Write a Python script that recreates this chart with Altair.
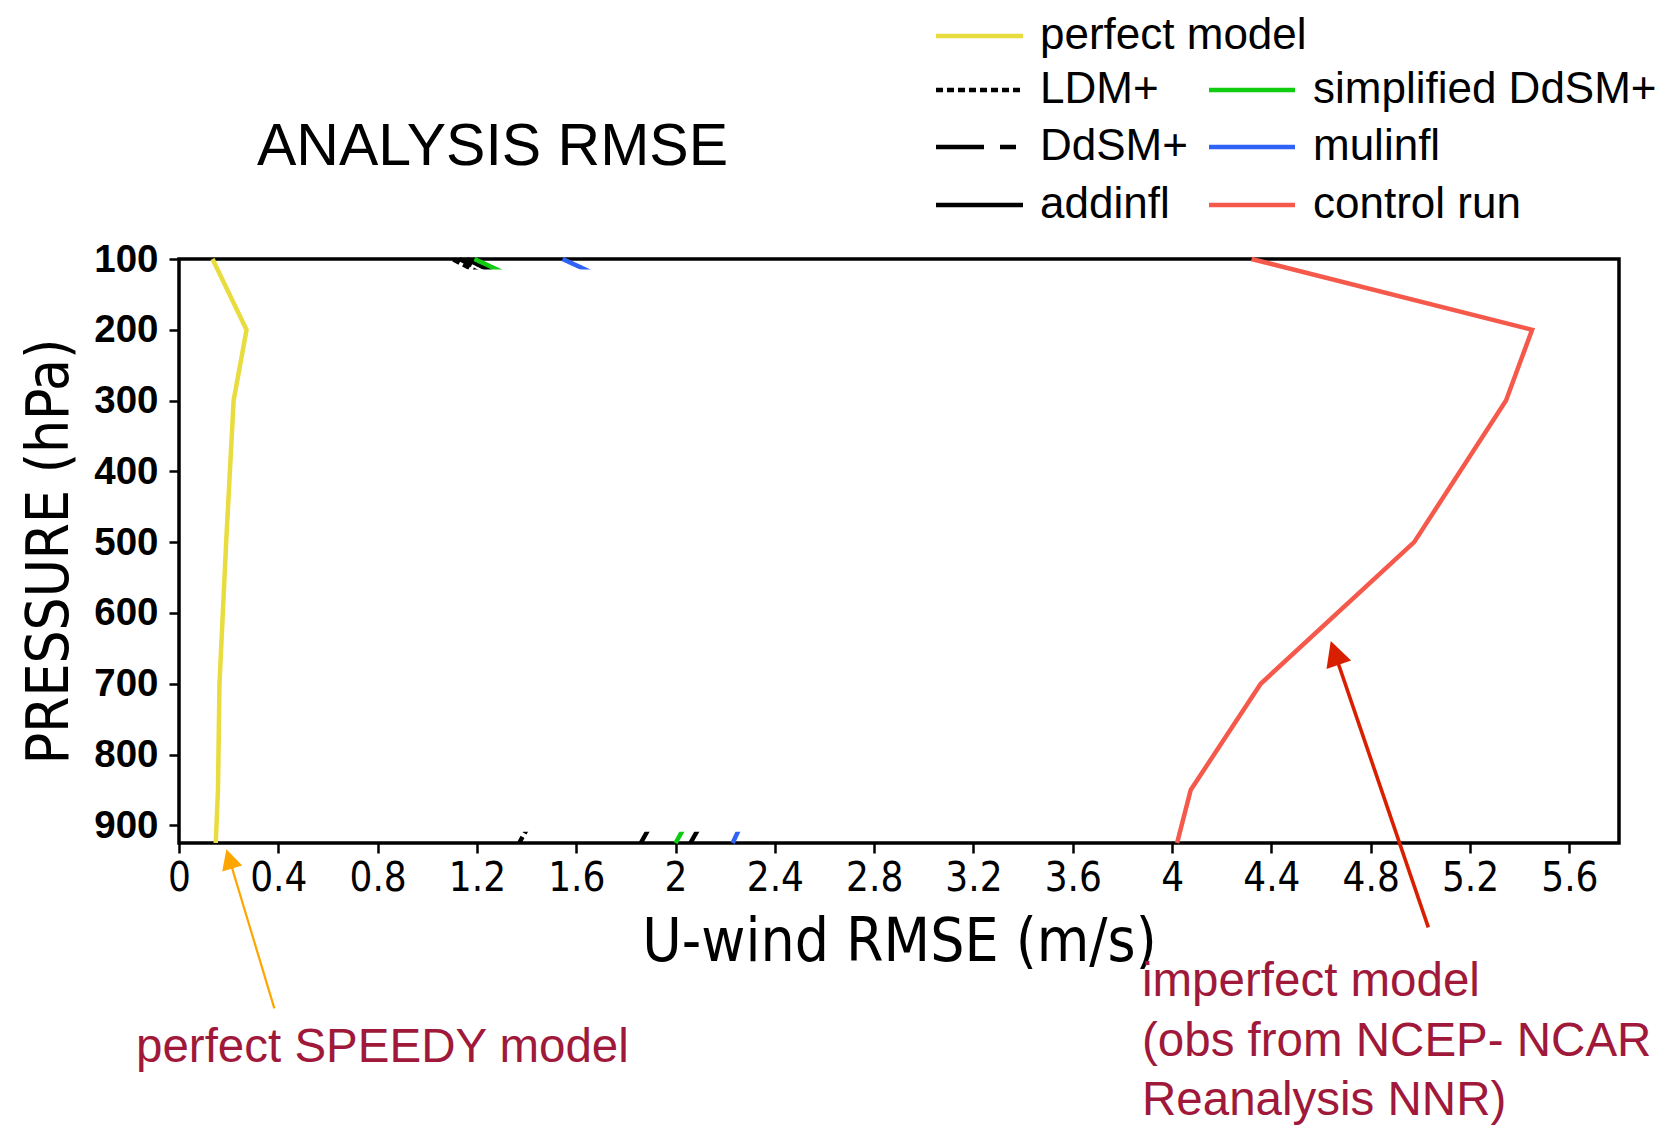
import altair as alt
import pandas as pd

# ---------------- data ----------------
LEVELS = [100, 200, 300, 500, 700, 850, 925]
SERIES = ["perfect model", "LDM+", "DdSM+", "addinfl",
          "simplified DdSM+", "mulinfl", "control run"]
PERFECT_MODEL = [0.135, 0.272, 0.220, 0.190, 0.163, 0.157, 0.148]
LDM_PLUS = [1.10, 1.66, 1.62, 1.55, 1.50, 1.49, 1.37]
DDSM_PLUS = [1.13, 1.69, 1.70, 1.72, 1.85, 1.98, 1.86]
ADDINFL = [1.16, 1.72, 1.76, 1.82, 1.98, 2.18, 2.06]
SIMPLIFIED_DDSM_PLUS = [1.19, 1.80, 1.82, 1.84, 1.95, 2.12, 2.00]
MULINFL = [1.545, 2.16, 2.16, 2.15, 2.20, 2.33, 2.23]
CONTROL_RUN = [4.32, 5.45, 5.345, 4.975, 4.357, 4.075, 4.02]

X_TICKS = [0, 0.4, 0.8, 1.2, 1.6, 2, 2.4, 2.8, 3.2, 3.6, 4, 4.4, 4.8, 5.2, 5.6]
Y_TICKS = [100, 200, 300, 400, 500, 600, 700, 800, 900]
X_DOMAIN = [0, 5.8]
Y_DOMAIN = [100, 925]

# part of the profile region that is blanked in the original figure
MASK_PRESSURE = [115, 909]

VALUES = {
    "perfect model": PERFECT_MODEL,
    "LDM+": LDM_PLUS,
    "DdSM+": DDSM_PLUS,
    "addinfl": ADDINFL,
    "simplified DdSM+": SIMPLIFIED_DDSM_PLUS,
    "mulinfl": MULINFL,
    "control run": CONTROL_RUN,
}
COLORS = ["#e8dc3e", "#000000", "#000000", "#000000", "#10cc10", "#2f62f5", "#f5594b"]
DASHES = [[1, 0], [7, 4], [48, 16, 16, 16], [1, 0], [1, 0], [1, 0], [1, 0]]

# annotations (data coordinates: rmse, pressure)
ARROWS = [
    # tail_x, tail_p, end_x, end_p, tip_x, tip_p, color, width, head_size, angle
    (0.384, 1158.6, 0.205, 950.2, 0.191, 933.9, "#ffa500", 2.2, 1600, 343.2),
    (5.032, 1044.2, 4.658, 659.8, 4.639, 639.7, "#d82000", 3.6, 2500, 341.2),
]

rows = []
for s in SERIES:
    for p, v in zip(LEVELS, VALUES[s]):
        rows.append({"series": s, "pressure": p, "rmse": v})
df = pd.DataFrame(rows)
hidden_names = ["LDM+", "DdSM+", "addinfl", "simplified DdSM+", "mulinfl"]
df_hidden = df[df.series.isin(hidden_names)]
df_visible = df[df.series.isin(["perfect model", "control run"])]

W, H = 1440, 584
NARROW = "Liberation Sans Narrow, DejaVu Sans Condensed, Liberation Sans, sans-serif"
SANS = "Liberation Sans, Arial, sans-serif"

XS = alt.Scale(domain=X_DOMAIN, nice=False, zero=False)
YS = alt.Scale(domain=Y_DOMAIN, nice=False, zero=False, reverse=True)
XAXIS = alt.Axis(values=X_TICKS, format="~g", grid=False, domain=False,
                 tickSize=10, tickWidth=2.5, tickColor="black",
                 labelFont=NARROW, labelFontSize=40, labelColor="black",
                 labelPadding=5, labelFlush=False, labelOverlap=False,
                 titleFont=NARROW, titleFontSize=60, titleFontWeight="normal",
                 titleColor="black", titleX=W / 2, titleY=117,
                 titleBaseline="alphabetic", titleAlign="center")
YAXIS = alt.Axis(values=Y_TICKS, grid=False, domain=False,
                 tickSize=10, tickWidth=2.5, tickColor="black",
                 labelFont=SANS, labelFontSize=38.5, labelFontWeight="bold",
                 labelColor="black", labelPadding=11, labelFlush=False,
                 labelOverlap=False,
                 titleFont=NARROW, titleFontSize=58, titleFontWeight="normal",
                 titleColor="black", titleX=-112, titleY=H / 2, titleAngle=270,
                 titleBaseline="alphabetic", titleAlign="center")


def xenc(field):
    return alt.X(f"{field}:Q", scale=XS, axis=XAXIS, title="U-wind RMSE (m/s)")


def yenc(field):
    return alt.Y(f"{field}:Q", scale=YS, axis=YAXIS, title="PRESSURE (hPa)")


color_enc = alt.Color("series:N", scale=alt.Scale(domain=SERIES, range=COLORS), legend=None)
dash_enc = alt.StrokeDash("series:N", scale=alt.Scale(domain=SERIES, range=DASHES), legend=None)

hidden = alt.Chart(df_hidden).mark_line(strokeWidth=4.5).encode(
    x=xenc("rmse"), y=yenc("pressure"), color=color_enc, strokeDash=dash_enc,
    order=alt.Order("pressure:Q", sort="descending"), detail="series:N")

mask = alt.Chart(pd.DataFrame({"pressure": [MASK_PRESSURE[0]],
                               "pressure2": [MASK_PRESSURE[1]]})).mark_rect(
    color="white").encode(x=alt.value(2.5), x2=alt.value(W - 2.5),
                          y=yenc("pressure"), y2="pressure2:Q")

visible = alt.Chart(df_visible).mark_line(strokeWidth=4.5).encode(
    x=xenc("rmse"), y=yenc("pressure"), color=color_enc,
    order=alt.Order("pressure:Q"), detail="series:N")

layers = [hidden, mask, visible]

for (tx, tp, ex, ep, hx, hp, col, lw, hs, ang) in ARROWS:
    adf = pd.DataFrame({"rmse": [tx], "pressure": [tp], "rmse2": [ex], "pressure2": [ep],
                        "hx": [hx], "hp": [hp]})
    layers.append(alt.Chart(adf).mark_rule(color=col, strokeWidth=lw).encode(
        x=xenc("rmse"), y=yenc("pressure"), x2="rmse2:Q", y2="pressure2:Q"))
    layers.append(alt.Chart(adf).mark_point(
        shape="M0,0L-0.52,1L0.52,1Z", filled=True, fill=col,
        opacity=1, size=hs, angle=ang).encode(x=xenc("hx"), y=yenc("hp")))

one = pd.DataFrame({"a": [0]})


def text_layer(txt, x, y, size, font=SANS, color="black", align="left",
               baseline="alphabetic", weight="normal"):
    return alt.Chart(one).mark_text(
        text=txt, font=font, fontSize=size, color=color, align=align,
        baseline=baseline, fontWeight=weight).encode(x=alt.value(x), y=alt.value(y))


# title
layers.append(text_layer("ANALYSIS RMSE", 78, -94, 59))

# manual legend (two columns, as in the figure)
LEG_ROWS = [-223, -169, -112, -54]
LEG_COLS = [(757, 844, 861), (1030, 1116, 1134)]
LEG_ITEMS = [("perfect model", 0, 0), ("LDM+", 0, 1), ("DdSM+", 0, 2), ("addinfl", 0, 3),
             ("simplified DdSM+", 1, 1), ("mulinfl", 1, 2), ("control run", 1, 3)]
for name, c, r in LEG_ITEMS:
    i = SERIES.index(name)
    x0, x1, xl = LEG_COLS[c]
    y = LEG_ROWS[r]
    layers.append(alt.Chart(one).mark_rule(
        color=COLORS[i], strokeWidth=4.5, strokeDash=DASHES[i]).encode(
        x=alt.value(x0), x2=alt.value(x1), y=alt.value(y), y2=alt.value(y)))
    layers.append(text_layer(name, xl, y, 44, baseline="middle"))

# annotations
ANN = "#a0193a"
layers.append(text_layer("perfect SPEEDY model", -43, 803, 47.5, color=ANN))
layers.append(text_layer("imperfect model", 963, 737, 47.5, color=ANN))
layers.append(text_layer("(obs from NCEP- NCAR", 963, 797, 47.5, color=ANN))
layers.append(text_layer("Reanalysis NNR)", 963, 856, 47.5, color=ANN))

chart = alt.layer(*layers).properties(
    width=W, height=H,
    autosize=alt.AutoSizeParams(type="none"),
    padding={"left": 171, "top": 251, "right": 40, "bottom": 282},
).configure(background="white").configure_view(stroke="black", strokeWidth=3.5)

chart.save("out.html", embed_options={"renderer": "svg", "actions": False})
